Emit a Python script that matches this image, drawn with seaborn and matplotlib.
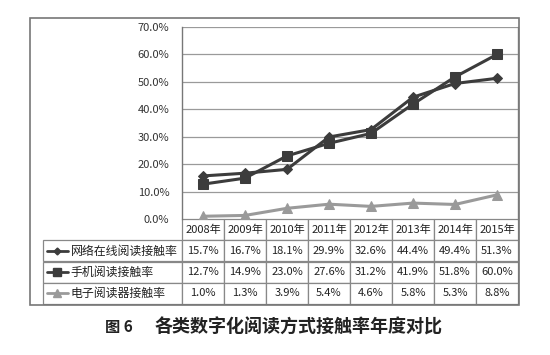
import pandas as pd
import matplotlib.pyplot as plt
import seaborn as sns
from matplotlib.lines import Line2D
from matplotlib.patches import Rectangle

years = ['2008年', '2009年', '2010年', '2011年', '2012年', '2013年', '2014年', '2015年']
series_names = ['网络在线阅读接触率', '手机阅读接触率', '电子阅读器接触率']
online = [15.7, 16.7, 18.1, 29.9, 32.6, 44.4, 49.4, 51.3]
mobile = [12.7, 14.9, 23.0, 27.6, 31.2, 41.9, 51.8, 60.0]
ereader = [1.0, 1.3, 3.9, 5.4, 4.6, 5.8, 5.3, 8.8]
yticks = [0, 10, 20, 30, 40, 50, 60, 70]
fig_label = '图 6'
caption = '各类数字化阅读方式接触率年度对比'

colors = {series_names[0]: '#3c3c3c', series_names[1]: '#3c3c3c', series_names[2]: '#9a9a9a'}
markers = {series_names[0]: 'D', series_names[1]: 's', series_names[2]: '^'}
msizes = {series_names[0]: 5, series_names[1]: 7.5, series_names[2]: 7}


def main():
    sns.set_theme(style='white')
    plt.rcParams['font.family'] = ['Noto Sans CJK SC', 'DejaVu Sans']

    values = [online, mobile, ereader]
    rows = []
    for name, vals in zip(series_names, values):
        for i, v in enumerate(vals):
            rows.append({'idx': i, 'rate': v, 'series': name})
    df = pd.DataFrame(rows)

    W, H = 550, 355
    fig = plt.figure(figsize=(5.5, 3.55), dpi=100)
    x0, x1, ytop, ybot = 182, 518, 27, 219
    ax = fig.add_axes([x0 / W, 1 - ybot / H, (x1 - x0) / W, (ybot - ytop) / H])

    for name in series_names:
        sub = df[df['series'] == name]
        sns.lineplot(data=sub, x='idx', y='rate', ax=ax, color=colors[name],
                     marker=markers[name], markersize=msizes[name],
                     markeredgecolor=colors[name], linewidth=2.2, legend=False)

    ax.set_xlim(-0.5, 7.5)
    ax.set_ylim(0, 70)
    ax.set_yticks(yticks)
    ax.set_yticklabels([f'{t:.1f}%' for t in yticks], fontsize=8, color='#333333')
    ax.set_xticks([])
    ax.set_xlabel('')
    ax.set_ylabel('')
    ax.tick_params(axis='y', length=0, pad=9)
    for t in yticks[1:]:
        ax.axhline(t, color='#9a9a9a', linewidth=0.9, zorder=0)
    for side in ['top', 'bottom']:
        ax.spines[side].set_visible(False)
    ax.spines['left'].set_color('#777777')
    ax.spines['right'].set_color('#888888')
    ax.spines['left'].set_linewidth(1)
    ax.spines['right'].set_linewidth(1)

    # data table below the plot
    cell_text = [[''] + years]
    for name, vals in zip(series_names, values):
        cell_text.append([name] + [f'{v:.1f}%' for v in vals])
    lab_x = 43
    left = (lab_x - x0) / (x1 - x0)
    tab_h = (304 - ybot) / (ybot - ytop)
    tab = ax.table(cellText=cell_text, cellLoc='center',
                   bbox=[left, -tab_h, 1 - left, tab_h],
                   colWidths=[(x0 - lab_x)] + [(x1 - x0) / 8] * 8)
    tab.auto_set_font_size(False)
    for (r, c), cell in tab.get_celld().items():
        cell.set_edgecolor('#888888')
        cell.set_linewidth(0.9)
        cell.get_text().set_fontsize(8)
        cell.get_text().set_color('#222222')
        if r == 0 and c == 0:
            cell.visible_edges = ''
        if c == 0 and r > 0:
            cell.get_text().set_fontsize(8.6)
            cell.get_text().set_ha('left')
            cell.PAD = 0.2

    # legend keys inside the table label cells
    row_h = (304 - ybot) / 4
    for i, name in enumerate(series_names):
        yc = 1 - (ybot + row_h * (i + 1.5)) / H
        fig.add_artist(Line2D([47 / W, 68 / W], [yc, yc], color=colors[name],
                              linewidth=2, transform=fig.transFigure))
        fig.add_artist(Line2D([57.5 / W], [yc], color=colors[name],
                              marker=markers[name], markersize=msizes[name] - 1.5,
                              linestyle='none', transform=fig.transFigure))

    # outer chart frame
    fig.add_artist(Rectangle((30 / W, 1 - 305 / H), (519 - 30) / W, (305 - 18) / H,
                             fill=False, edgecolor='#777777', linewidth=1.2,
                             transform=fig.transFigure))

    fig.text(105 / W, 1 - 327 / H, fig_label, fontsize=11, fontweight='bold',
             va='center', ha='left', color='#222222')
    fig.text(155 / W, 1 - 327 / H, caption, fontsize=13,
             fontweight='bold', va='center', ha='left', color='#222222')

    fig.savefig('out.png', dpi=100)
    plt.close(fig)


if __name__ == '__main__':
    main()
